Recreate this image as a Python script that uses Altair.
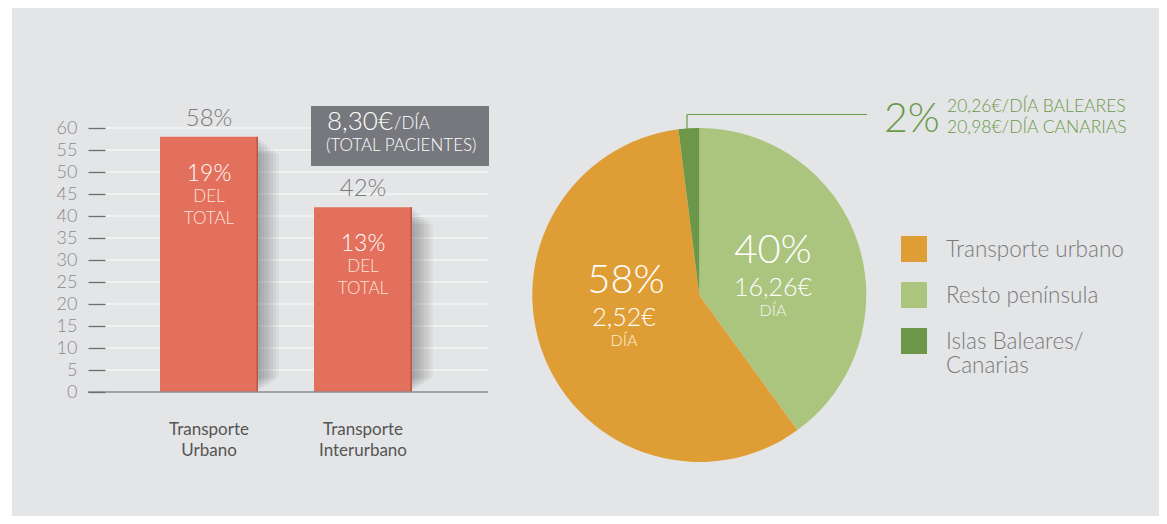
import altair as alt
import pandas as pd

# ---------------- data ----------------
bar_cats = ["Transporte Urbano", "Transporte Interurbano"]
bar_axis_labels = ["Transporte\nUrbano", "Transporte\nInterurbano"]
bar_values = [58, 42]
bar_top_labels = ["58%", "42%"]
bar_share = ["19%", "13%"]
bar_share_note = ["DEL", "DEL"]
bar_share_note2 = ["TOTAL", "TOTAL"]
y_ticks = [0, 5, 10, 15, 20, 25, 30, 35, 40, 45, 50, 55, 60]

total_main = "8,30€"
total_unit = "/DÍA"
total_note = "(TOTAL PACIENTES)"

pie_cats = ["Transporte urbano", "Resto península", "Islas Baleares/Canarias"]
pie_values = [58, 40, 2]
pie_order = [2, 1, 3]
pie_pct = ["58%", "40%", "2%"]
pie_cost = ["2,52€", "16,26€"]
pie_unit = "DÍA"
islands_notes = ["20,26€/DÍA BALEARES", "20,98€/DÍA CANARIAS"]
legend_lines = [["Transporte urbano"], ["Resto península"], ["Islas Baleares/", "Canarias"]]

# ---------------- style ----------------
FONT = "Lato"
BG = "#e4e5e7"
BAR = "#e3705c"
BAR_EDGE = "#b65746"
PIE_COLORS = ["#df9e35", "#abc57f", "#6c9648"]
GREEN_TXT = "#6b9a4a"

W, H = 1151, 508

bars_df = pd.DataFrame({
    "cat": bar_cats, "value": bar_values, "top": bar_top_labels,
    "share": bar_share, "note": bar_share_note, "note2": bar_share_note2,
    "xlab": bar_axis_labels,
})
ticks_df = pd.DataFrame({"t": y_ticks})
pie_df = pd.DataFrame({"cat": pie_cats, "value": pie_values, "ord": pie_order})
one = pd.DataFrame({"a": [0]})

xs = alt.X("cat:N", scale=alt.Scale(domain=bar_cats, range=[75, 481],
                                    paddingInner=0.3636, paddingOuter=0.5), axis=None)
ys = alt.Scale(domain=[0, 60], range=[384, 120])
y_axis = alt.Axis(
    values=y_ticks, offset=-97, tickSize=17, tickColor="#6e6e6e", tickWidth=1.3,
    domain=False, grid=False, labelPadding=11, labelFontSize=18, labelFontWeight=300,
    labelColor="#8a8a8a", labelFont=FONT, title=None, zindex=2)


def Y(field):
    return alt.Y(field, scale=ys, axis=y_axis)


def txt(s, x, y, size, color, align="center", weight=300, baseline="middle"):
    return alt.Chart(one).mark_text(
        font=FONT, fontSize=size, color=color, align=align,
        baseline=baseline, fontWeight=weight
    ).encode(x=alt.value(x), y=alt.value(y), text=alt.value(s))


layers = []

# background panel
layers.append(alt.Chart(one).mark_rect(color=BG).encode(
    x=alt.value(4), x2=alt.value(W), y=alt.value(0), y2=alt.value(H)))

# grid lines (y axis carried by this layer)
layers.append(alt.Chart(ticks_df).transform_filter("datum.t > 0").mark_rule(
    color="#f4f4f5", strokeWidth=1.5).encode(
    y=Y("t:Q"), x=alt.value(97), x2=alt.value(480)))

# bar shadows
for k in range(1, 8):
    layers.append(alt.Chart(bars_df).transform_calculate(
        top=f"datum.value - {0.55 * k}", bot=f"{0.45 * k}").mark_bar(
        color="#000000", opacity=0.045, width=3 * k, xOffset=49 + 1.5 * k).encode(
        x=xs, y=Y("top:Q"), y2="bot:Q"))

# bars
layers.append(alt.Chart(bars_df).mark_bar(color=BAR, width=98).encode(
    x=xs, y=Y("value:Q")))
layers.append(alt.Chart(bars_df).mark_bar(color=BAR_EDGE, width=1.5, xOffset=48.25).encode(
    x=xs, y=Y("value:Q")))

# baseline
layers.append(alt.Chart(one).mark_rule(color="#8a8b8e", strokeWidth=1.5).encode(
    y=Y("a:Q"), x=alt.value(80), x2=alt.value(480)))

# bar labels
layers.append(alt.Chart(bars_df).mark_text(font=FONT, fontSize=24, color="#7b7b7b",
                                           baseline="middle", dy=-18, fontWeight=300).encode(
    x=xs, y=Y("value:Q"), text="top:N"))
layers.append(alt.Chart(bars_df).mark_text(font=FONT, fontSize=23, color="white",
                                           baseline="middle", dy=37, fontWeight=300).encode(
    x=xs, y=Y("value:Q"), text="share:N"))
layers.append(alt.Chart(bars_df).mark_text(font=FONT, fontSize=17, color="#fbe3dd",
                                           baseline="middle", dy=60, fontWeight=300).encode(
    x=xs, y=Y("value:Q"), text="note:N"))
layers.append(alt.Chart(bars_df).mark_text(font=FONT, fontSize=17, color="#fbe3dd",
                                           baseline="middle", dy=82, fontWeight=300).encode(
    x=xs, y=Y("value:Q"), text="note2:N"))
layers.append(alt.Chart(bars_df).mark_text(font=FONT, fontSize=17, color="#555555",
                                           baseline="middle", lineBreak="\n", lineHeight=21,
                                           fontWeight=400).encode(
    x=xs, y=alt.value(422), text="xlab:N"))

# total box
layers.append(alt.Chart(one).mark_rect(color="#76787d").encode(
    x=alt.value(303), x2=alt.value(481), y=alt.value(98), y2=alt.value(158)))
layers.append(txt(total_main, 319, 114, 26, "white", align="left"))
layers.append(txt(total_unit, 386, 116, 17, "white", align="left"))
layers.append(txt(total_note, 318, 138, 17, "white", align="left"))

# pie
CX, CY, R = 691.3, 287, 167
layers.append(alt.Chart(pie_df).mark_arc(outerRadius=R, strokeWidth=0).encode(
    theta=alt.Theta("value:Q", stack=True),
    color=alt.Color("cat:N", scale=alt.Scale(domain=pie_cats, range=PIE_COLORS), legend=None),
    order=alt.Order("ord:Q"),
    x=alt.value(CX), y=alt.value(CY)))

# pie labels
layers.append(txt(pie_pct[0], 618, 273, 40, "white"))
layers.append(txt(pie_cost[0], 616, 310, 25, "white"))
layers.append(txt(pie_unit, 616, 333, 16, "#fdf0dc"))
layers.append(txt(pie_pct[1], 765, 243, 40, "white"))
layers.append(txt(pie_cost[1], 765, 280, 25, "white"))
layers.append(txt(pie_unit, 765, 303, 16, "#f3f7ec"))

# leader line + islands annotation
layers.append(alt.Chart(one).mark_rule(color=GREEN_TXT, strokeWidth=1.2).encode(
    x=alt.value(679), x2=alt.value(859), y=alt.value(106.5)))
layers.append(alt.Chart(one).mark_rule(color=GREEN_TXT, strokeWidth=1.2).encode(
    x=alt.value(679), y=alt.value(106.5), y2=alt.value(123)))
layers.append(txt(pie_pct[2], 876, 112, 41, GREEN_TXT, align="left"))
layers.append(txt(islands_notes[0], 939, 99, 17.5, GREEN_TXT, align="left"))
layers.append(txt(islands_notes[1], 939, 120, 17.5, GREEN_TXT, align="left"))

# legend
leg_y = [241, 287, 333]
for i, (c, lines) in enumerate(zip(PIE_COLORS, legend_lines)):
    layers.append(alt.Chart(one).mark_square(size=676, color=c, opacity=1).encode(
        x=alt.value(906), y=alt.value(leg_y[i])))
    for j, line in enumerate(lines):
        layers.append(txt(line, 938, leg_y[i] + 0.5 + 24.5 * j, 22.5, "#7a7a7a",
                          align="left", weight=300))

chart = alt.layer(*layers).properties(
    width=W, height=H, autosize=alt.AutoSizeParams(type="none"), padding=0,
    background="white"
).configure_view(stroke=None)

chart.save("out.html", embed_options={"renderer": "svg", "actions": False})
